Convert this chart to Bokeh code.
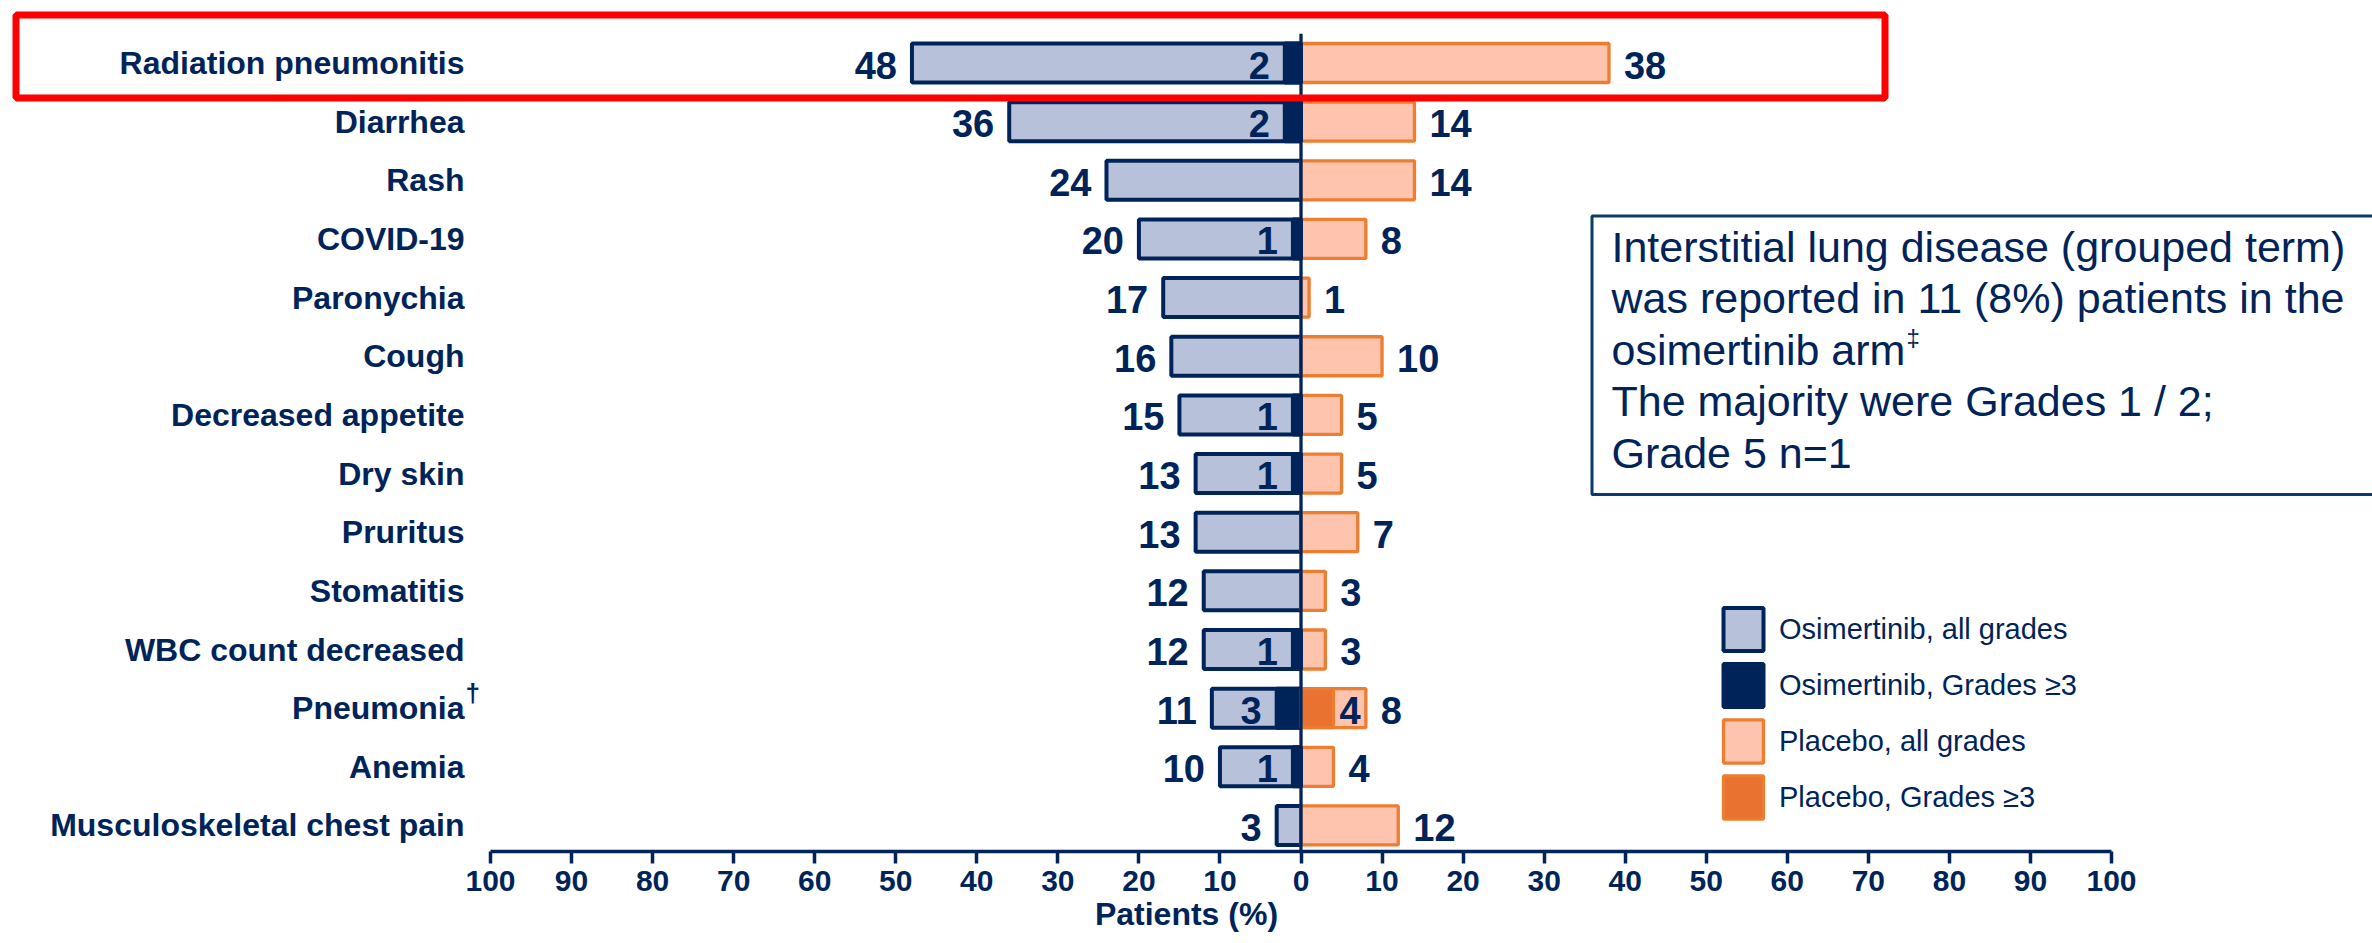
from bokeh.plotting import figure
from bokeh.models import (Range1d, FixedTicker, CustomJSTickFormatter, ColumnDataSource,
                          Legend, LegendItem)
from bokeh.core.properties import value
from bokeh.embed import file_html
from bokeh.resources import INLINE

# ---------------- data ----------------
categories = ["Radiation pneumonitis", "Diarrhea", "Rash", "COVID-19", "Paronychia", "Cough",
              "Decreased appetite", "Dry skin", "Pruritus", "Stomatitis", "WBC count decreased",
              "Pneumonia", "Anemia", "Musculoskeletal chest pain"]
footnote_marks = {"Pneumonia": "\u2020"}
osi_all = [48, 36, 24, 20, 17, 16, 15, 13, 13, 12, 12, 11, 10, 3]
osi_g3 = [2, 2, 0, 1, 0, 0, 1, 1, 0, 0, 1, 3, 1, 0]
pla_all = [38, 14, 14, 8, 1, 10, 5, 5, 7, 3, 3, 8, 4, 12]
pla_g3 = [0, 0, 0, 0, 0, 0, 0, 0, 0, 0, 0, 4, 0, 0]
tick_values = list(range(-100, 101, 10))
highlight_row = 0
note_lines = ["Interstitial lung disease (grouped term)",
              "was reported in 11 (8%) patients in the",
              "osimertinib arm",
              "The majority were Grades 1 / 2;",
              "Grade 5 n=1"]
note_mark = "\u2021"
note_mark_line = 2
legend_labels = ["Osimertinib, all grades", "Osimertinib, Grades \u22653",
                 "Placebo, all grades", "Placebo, Grades \u22653"]
x_label = "Patients (%)"

# ---------------- style ----------------
W, H = 2372, 943
BOTTOM_PANEL = 92
FRAME_H = H - BOTTOM_PANEL
NAVY = "#00245A"
OSI_LIGHT = "#B7C2DA"
PLA_LIGHT = "#FEC4AE"
ORANGE = "#ED7D31"
ORANGE_DARK = "#EA7231"
RED = "#FF0000"
BOX = "#0B3B6B"
FONT = "Liberation Sans"

X_LEFT_PX, X_RIGHT_PX = 490.0, 2111.0
SX = (X_RIGHT_PX - X_LEFT_PX) / 200.0
X0_PX = (X_LEFT_PX + X_RIGHT_PX) / 2.0
ROW0_PX, ROW_PX = 62.5, 58.65


def px2x(px):
    return (px - X0_PX) / SX


def px2y(py):
    return (py - ROW0_PX) / ROW_PX


x_start, x_end = px2x(0), px2x(W)
y_top, y_bottom = px2y(0), px2y(FRAME_H)

p = figure(width=W, height=H, x_range=Range1d(x_start, x_end),
           y_range=Range1d(y_bottom, y_top), output_backend="svg",
           toolbar_location=None, y_axis_location=None, x_axis_location="below",
           min_border_left=0, min_border_right=0, min_border_top=0,
           min_border_bottom=BOTTOM_PANEL)
p.xgrid.visible = False
p.ygrid.visible = False
p.outline_line_color = None
p.background_fill_color = "white"
p.border_fill_color = "white"

idx = list(range(len(categories)))
BAR_H = 39.0 / ROW_PX

src = ColumnDataSource(dict(y=idx, osi=[-v for v in osi_all], pla=pla_all,
                            osi_txt=[str(v) for v in osi_all], pla_txt=[str(v) for v in pla_all]))
og = [i for i in idx if osi_g3[i] > 0]
src_og = ColumnDataSource(dict(y=og, g=[-osi_g3[i] for i in og], txt=[str(osi_g3[i]) for i in og]))
pg = [i for i in idx if pla_g3[i] > 0]
src_pg = ColumnDataSource(dict(y=pg, g=[pla_g3[i] for i in pg], txt=[str(pla_g3[i]) for i in pg]))

r_osi = p.hbar(y="y", left="osi", right=0, height=BAR_H, fill_color=OSI_LIGHT,
               line_color=NAVY, line_width=4, source=src)
r_pla = p.hbar(y="y", left=0, right="pla", height=BAR_H, fill_color=PLA_LIGHT,
               line_color=ORANGE, line_width=3.3, source=src)
r_og = p.hbar(y="y", left="g", right=0, height=BAR_H, fill_color=NAVY,
              line_color=NAVY, line_width=4, source=src_og)
r_pg = p.hbar(y="y", left=0, right="g", height=BAR_H, fill_color=ORANGE_DARK,
              line_color=ORANGE, line_width=3.3, source=src_pg)

# centre line
p.segment(x0=[0], y0=[-0.5], x1=[0], y1=[y_bottom], line_color=NAVY, line_width=3.3)

# value labels
lab = dict(text_font=value(FONT), text_font_style="bold", text_font_size="38px",
           text_color=NAVY, text_baseline="middle", y_offset=2)
p.text(x="osi", y="y", text="osi_txt", text_align="right", x_offset=-15, source=src, **lab)
p.text(x="pla", y="y", text="pla_txt", text_align="left", x_offset=15, source=src, **lab)
p.text(x="g", y="y", text="txt", text_align="right", x_offset=-15, source=src_og, **lab)
p.text(x="g", y="y", text="txt", text_align="left", x_offset=6, source=src_pg, **lab)

# category labels
p.text(x=[-100] * len(categories), y=idx, text=categories, text_align="right",
       text_baseline="middle", x_offset=-26, text_font=value(FONT), text_font_style="bold",
       text_font_size="32px", text_color=NAVY)
fm_rows = [categories.index(k) for k in footnote_marks]
p.text(x=[-100] * len(fm_rows), y=fm_rows, text=list(footnote_marks.values()),
       text_align="left", text_baseline="middle", x_offset=-25, y_offset=-15,
       text_font=value(FONT), text_font_style="bold", text_font_size="26px", text_color=NAVY)

# highlight box
p.quad(left=[px2x(15.5)], right=[px2x(1884.5)], top=[highlight_row + px2y(14.5)],
       bottom=[highlight_row + px2y(97.5)], fill_color=None, line_color=RED, line_width=7)

# note box
p.quad(left=[px2x(1591.5)], right=[px2x(2385)], top=[px2y(215.5)], bottom=[px2y(494)],
       fill_color=None, line_color=BOX, line_width=3)
base_px = 246.0
spacing_px = 51.5
note_y = [px2y(base_px + k * spacing_px) for k in range(len(note_lines))]
p.text(x=[px2x(1611)] * len(note_lines), y=note_y, text=note_lines, text_align="left",
       text_baseline="alphabetic", text_font=value(FONT), text_font_size="43px", text_color=NAVY)
p.text(x=[px2x(1611)], y=[note_y[note_mark_line]], text=[note_mark], text_align="left",
       text_baseline="alphabetic", x_offset=295, y_offset=-12, text_font=value(FONT),
       text_font_size="24px", text_color=NAVY)

# legend
legend = Legend(items=[LegendItem(label=legend_labels[0], renderers=[r_osi]),
                       LegendItem(label=legend_labels[1], renderers=[r_og]),
                       LegendItem(label=legend_labels[2], renderers=[r_pla]),
                       LegendItem(label=legend_labels[3], renderers=[r_pg])],
                location=(1718, 28 - (852 - FRAME_H)), orientation="vertical",
                glyph_width=50, glyph_height=54,
                spacing=2, label_standoff=11, padding=0, margin=0, border_line_color=None,
                background_fill_alpha=0, label_text_font=FONT, label_text_font_size="29px",
                label_text_color=NAVY)
p.add_layout(legend)

# x axis
ax = p.xaxis[0]
ax.ticker = FixedTicker(ticks=tick_values)
ax.formatter = CustomJSTickFormatter(code="return Math.abs(tick).toString();")
ax.bounds = (-100, 100)
ax.axis_line_color = NAVY
ax.axis_line_width = 3.5
ax.major_tick_line_color = NAVY
ax.major_tick_line_width = 3.5
ax.major_tick_out = 12
ax.major_tick_in = 0
ax.minor_tick_line_color = None
ax.major_label_standoff = 7
ax.major_label_text_font = FONT
ax.major_label_text_font_style = "bold"
ax.major_label_text_font_size = "30px"
ax.major_label_text_color = NAVY
ax.axis_label = x_label
ax.axis_label_standoff = 2
ax.axis_label_text_font = FONT
ax.axis_label_text_font_style = "bold"
ax.axis_label_text_font_size = "32px"
ax.axis_label_text_color = NAVY

open("out.html", "w").write(file_html(p, INLINE))
